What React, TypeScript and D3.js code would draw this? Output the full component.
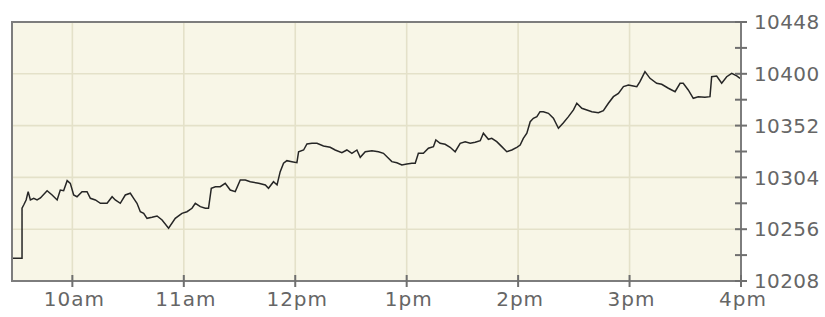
import React, { useEffect, useRef } from 'react';
import * as d3 from 'd3';

// minutes after 9:30 open
const minutes = [
  -2.5, 2.9, 2.9, 3.8, 5.1, 6.2, 7.4, 9.2, 11.0, 12.8, 16.4, 19.1, 21.8, 23.5, 25.3, 27.2, 28.9,
  30.7, 32.5, 35.2, 37.9, 39.7, 42.4, 45.1, 48.7, 51.4, 53.1, 55.8, 58.5, 61.2, 63.0, 64.8, 66.6,
  68.4, 70.2, 72.9, 75.6, 78.3, 81.8, 85.4, 89.0, 91.7, 94.4, 96.2, 98.9, 101.6, 103.3, 104.8,
  107.0, 109.6, 112.3, 115.0, 117.7, 120.4, 123.1, 125.8, 130.3, 133.9, 135.6, 138.3, 140.2,
  141.9, 143.7, 145.5, 148.2, 150.9, 151.8, 154.5, 156.3, 159.0, 161.7, 165.2, 168.8, 171.5,
  175.1, 177.8, 180.5, 183.2, 185.0, 187.7, 191.3, 194.8, 197.5, 200.2, 202.0, 204.7, 207.4,
  210.1, 212.8, 214.6, 216.3, 219.0, 221.7, 224.4, 225.7, 228.0, 230.7, 233.4, 236.1, 238.8,
  241.5, 244.2, 246.9, 249.6, 251.3, 254.0, 255.8, 258.5, 261.2, 263.9, 266.6, 269.3, 271.1,
  272.8, 274.7, 276.5, 278.2, 280.1, 281.8, 283.6, 286.3, 289.0, 291.7, 294.4, 297.1, 299.8,
  301.6, 304.3, 307.0, 309.7, 313.2, 315.9, 318.6, 321.3, 324.0, 326.7, 329.4, 332.0, 333.9,
  335.6, 338.3, 341.0, 344.6, 347.3, 350.9, 354.5, 357.2, 358.9, 361.6, 364.3, 367.0, 370.6,
  373.3, 374.2, 376.9, 379.6, 382.3, 385.0, 387.7, 389.5
];

const prices = [
  10229.0, 10229.0, 10275.4, 10278.4, 10283.1, 10290.8, 10283.1, 10284.6, 10283.1, 10284.9,
  10291.7, 10287.7, 10283.1, 10292.3, 10291.7, 10301.0, 10298.5, 10287.7, 10286.1, 10290.8,
  10290.8, 10284.6, 10283.1, 10280.0, 10280.0, 10286.1, 10283.1, 10280.0, 10287.7, 10289.3,
  10284.6, 10280.0, 10272.2, 10270.7, 10266.1, 10267.0, 10268.2, 10264.5, 10256.9, 10266.1,
  10270.7, 10272.2, 10275.4, 10280.0, 10276.9, 10275.4, 10275.4, 10293.9, 10295.4, 10295.4,
  10298.5, 10292.3, 10290.8, 10301.6, 10301.6, 10300.0, 10298.5, 10297.0, 10293.9, 10300.0,
  10297.0, 10309.3, 10317.1, 10319.5, 10318.6, 10317.6, 10327.8, 10329.4, 10335.0, 10335.6,
  10335.6, 10333.1, 10331.9, 10329.4, 10326.9, 10329.4, 10326.3, 10329.4, 10322.6, 10327.8,
  10328.8, 10327.8, 10326.3, 10321.7, 10318.6, 10317.6, 10315.5, 10316.4, 10317.1, 10317.1,
  10326.3, 10326.3, 10331.0, 10332.5, 10338.7, 10335.6, 10334.7, 10331.9, 10327.8, 10335.6,
  10337.1, 10335.6, 10336.5, 10338.0, 10344.9, 10339.3, 10340.2, 10337.1, 10332.5, 10327.8,
  10329.4, 10331.9, 10334.0, 10340.2, 10344.9, 10355.6, 10358.8, 10360.3, 10364.9, 10364.9,
  10363.4, 10358.8, 10349.5, 10354.7, 10360.3, 10366.5, 10372.7, 10368.0, 10366.5, 10364.9,
  10364.0, 10365.8, 10372.7, 10378.8, 10381.9, 10388.1, 10389.6, 10388.7, 10388.1, 10392.7,
  10402.0, 10395.8, 10391.2, 10390.3, 10386.6, 10383.4, 10391.2, 10391.2, 10385.0, 10377.3,
  10378.8, 10378.2, 10378.8, 10397.3, 10398.0, 10391.2, 10397.3, 10400.5, 10398.0, 10395.8
];

const hourTicks = [30, 90, 150, 210, 270, 330, 390];
const hourLabels = ['10am', '11am', '12pm', '1pm', '2pm', '3pm', '4pm'];
const priceTicks = [10208, 10256, 10304, 10352, 10400, 10448];
const minorPriceTicks = [10232, 10280, 10328, 10376, 10424];

export default function App() {
  const svgRef = useRef<SVGSVGElement | null>(null);
  const width = 825;
  const height = 317;

  useEffect(() => {
    document.body.style.margin = '0';
    if (!svgRef.current) return;
    const svg = d3.select(svgRef.current);
    svg.selectAll('*').remove();

    const left = 12, right = 741, top = 22, bottom = 281;

    const x = d3.scaleLinear().domain([-2.5, 390]).range([left, right]);
    const y = d3.scaleLinear().domain([10208, 10448]).range([bottom, top]);

    // plot background
    svg.append('rect')
      .attr('x', left).attr('y', top)
      .attr('width', right - left).attr('height', bottom - top)
      .attr('fill', '#f8f6e7');

    // grid
    svg.append('g').selectAll('line')
      .data(hourTicks.slice(0, -1))
      .join('line')
      .attr('x1', d => x(d)).attr('x2', d => x(d))
      .attr('y1', top).attr('y2', bottom)
      .attr('stroke', '#e4e1c9').attr('stroke-width', 1.6);

    svg.append('g').selectAll('line')
      .data(priceTicks.slice(1, -1))
      .join('line')
      .attr('x1', left).attr('x2', right)
      .attr('y1', d => y(d)).attr('y2', d => y(d))
      .attr('stroke', '#e4e1c9').attr('stroke-width', 1.6);

    // price line
    const pts = minutes.map((m, i) => [m, prices[i]] as [number, number]);
    const line = d3.line<[number, number]>()
      .x(d => x(d[0]))
      .y(d => y(d[1]));

    svg.append('path')
      .datum(pts)
      .attr('d', line)
      .attr('fill', 'none')
      .attr('stroke', '#262626')
      .attr('stroke-width', 1.5)
      .attr('stroke-linejoin', 'miter');

    // frame
    svg.append('rect')
      .attr('x', left).attr('y', top)
      .attr('width', right - left).attr('height', bottom - top)
      .attr('fill', 'none')
      .attr('stroke', '#7d7d7d')
      .attr('stroke-width', 2);

    // x ticks + labels
    const xg = svg.append('g');
    xg.selectAll('line')
      .data(hourTicks)
      .join('line')
      .attr('x1', d => x(d)).attr('x2', d => x(d))
      .attr('y1', bottom - 6).attr('y2', bottom + 6)
      .attr('stroke', '#6f6f6f').attr('stroke-width', 2);
    xg.selectAll('text')
      .data(hourTicks)
      .join('text')
      .attr('x', d => x(d) + 2)
      .attr('y', 306)
      .attr('text-anchor', 'middle')
      .attr('font-family', 'DejaVu Sans, Verdana, sans-serif')
      .attr('font-size', 20)
      .attr('letter-spacing', 1)
      .attr('fill', '#666')
      .text((d, i) => hourLabels[i]);

    // y ticks + labels
    const yg = svg.append('g');
    yg.selectAll('line')
      .data([...priceTicks, ...minorPriceTicks])
      .join('line')
      .attr('x1', right - 6).attr('x2', right + 6)
      .attr('y1', d => y(d)).attr('y2', d => y(d))
      .attr('stroke', '#6f6f6f').attr('stroke-width', 2);
    yg.selectAll('text')
      .data(priceTicks)
      .join('text')
      .attr('x', 754)
      .attr('y', d => y(d))
      .attr('dy', '0.36em')
      .attr('font-family', 'DejaVu Sans, Verdana, sans-serif')
      .attr('font-size', 20)
      .attr('letter-spacing', 0.4)
      .attr('fill', '#666')
      .text(d => String(d));
  }, []);

  return (
    <svg ref={svgRef} width={width} height={height} style={{ display: 'block', background: '#fff' }} />
  );
}
